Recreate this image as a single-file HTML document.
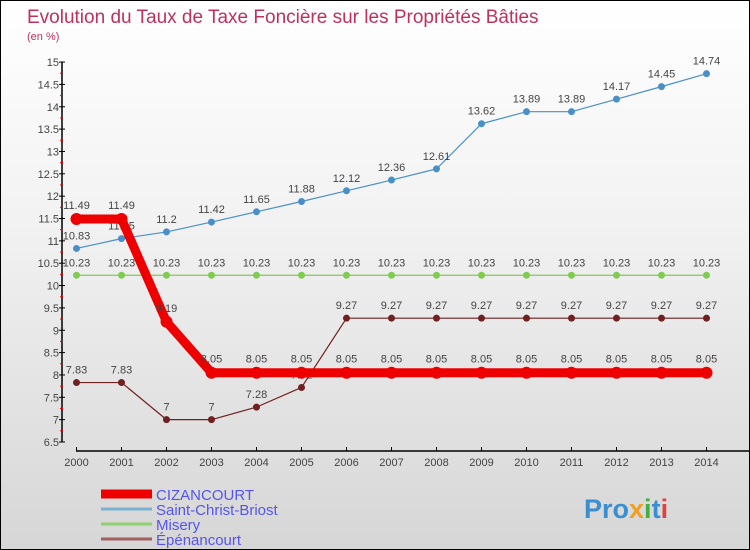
<!DOCTYPE html>
<html><head><meta charset="utf-8"><style>
body{margin:0}
#c{width:750px;height:550px;position:relative;overflow:hidden;box-sizing:border-box;border:1px solid #000;background:linear-gradient(#fff 0%,#f2f2f2 40%,#d6d6d6 100%);font-family:"Liberation Sans",sans-serif}
svg text{font-family:"Liberation Sans",sans-serif}
</style></head><body>
<div id="c">
<svg id="s" width="750" height="550">
<text x="26" y="22" font-size="19" fill="#c0305e">Evolution du Taux de Taxe Foncière sur les Propriétés Bâties</text>
<text x="26" y="39" font-size="11" fill="#c0305e">(en %)</text>
<text x="583" y="517" font-size="27" font-weight="bold" fill="#3a8fd0">Pro<tspan fill="#f0a020">x</tspan><tspan fill="#40b040">i</tspan>t<tspan fill="#e04040">i</tspan></text>
</svg>
</div>
<script>
const years=[2000,2001,2002,2003,2004,2005,2006,2007,2008,2009,2010,2011,2012,2013,2014];
const cizancourt=[11.49,11.49,9.19,8.05,8.05,8.05,8.05,8.05,8.05,8.05,8.05,8.05,8.05,8.05,8.05];
const saintChrist=[10.83,11.05,11.2,11.42,11.65,11.88,12.12,12.36,12.61,13.62,13.89,13.89,14.17,14.45,14.74];
const misery=[10.23,10.23,10.23,10.23,10.23,10.23,10.23,10.23,10.23,10.23,10.23,10.23,10.23,10.23,10.23];
const epenancourt=[7.83,7.83,7,7,7.28,7.72,9.27,9.27,9.27,9.27,9.27,9.27,9.27,9.27,9.27];
const yTicks=[6.5,7,7.5,8,8.5,9,9.5,10,10.5,11,11.5,12,12.5,13,13.5,14,14.5,15];
const seriesNames=["CIZANCOURT","Saint-Christ-Briost","Misery","Épénancourt"];
const NS="http://www.w3.org/2000/svg";
const svg=document.getElementById('s');
const X=i=>75.5+i*45;
const Y=v=>441-(v-6.5)*44.7;
function mk(t,a,p){const e=document.createElementNS(NS,t);for(const k in a)e.setAttribute(k,a[k]);(p||svg).appendChild(e);return e;}
let ax=mk('g',{});


mk('line',{x1:61,y1:Y(15),x2:61,y2:Y(6.5),stroke:'#000','stroke-width':1.5},ax);
yTicks.forEach(v=>{
 mk('line',{x1:58,y1:Y(v),x2:64,y2:Y(v),stroke:'#000'},ax);
 if(v<15) mk('line',{x1:59,y1:Y(v+0.25),x2:62,y2:Y(v+0.25),stroke:'#e00'},ax);
 const t=mk('text',{x:58,y:Y(v)+4,'font-size':11,fill:'#444','text-anchor':'end'},ax);t.textContent=v;
 
 
});
let xa=mk('g',{});


mk('line',{x1:75,y1:450,x2:750,y2:450,stroke:'#000','stroke-width':1.5},xa);
years.forEach((y,i)=>{
 mk('line',{x1:X(i),y1:446,x2:X(i),y2:450,stroke:'#000'},xa);
 const t=mk('text',{x:X(i),y:465,'font-size':11,fill:'#444','text-anchor':'middle'},xa);t.textContent=y;
 
 
});
function series(data,color,w,r,name,labelDy){
 const g=mk('g',{});
 
 
 mk('polyline',{points:data.map((v,i)=>X(i)+','+Y(v)).join(' '),fill:'none',stroke:color,'stroke-width':w,'stroke-linejoin':'round'},g);
 data.forEach((v,i)=>{
  const c=mk('circle',{cx:X(i),cy:Y(v),r:r,fill:color},g);
  
  
  const t=mk('text',{x:X(i),y:Y(v)-labelDy,'font-size':11,fill:'#444','text-anchor':'middle'},g);t.textContent=v;
  
  
 });
}
series(misery,'#80cc50',1.2,3.5,'misery-series',9);
series(epenancourt,'#702020',1.2,3.5,'epenancourt-series',9);
series(saintChrist,'#4a90c8',1.2,3.5,'saint-christ-series',9);
series(cizancourt,'#ee0000',9,6,'cizancourt-series',10);
const lc=['#ee0000','#7ab0d0','#90d070','#a06060'];
const lw=[9,3,3,3];
seriesNames.forEach((n,i)=>{
 const y=493+i*15;
 const g=mk('g',{});
 
 
 mk('line',{x1:100,y1:y,x2:151,y2:y,stroke:lc[i],'stroke-width':lw[i]},g);
 const t=mk('text',{x:155,y:y+6,'font-size':15,fill:'#5555ee'},g);t.textContent=n;
});
</script>
</body></html>
